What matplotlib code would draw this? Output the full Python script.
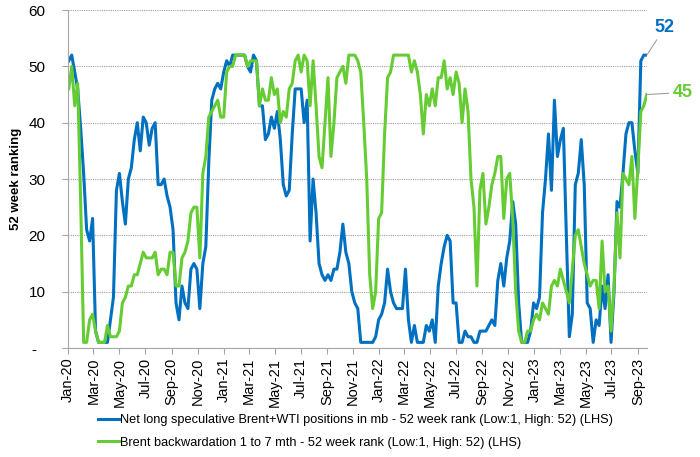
import pandas as pd
import matplotlib
matplotlib.use("Agg")
import matplotlib.pyplot as plt
import matplotlib.dates as mdates
from matplotlib.ticker import FuncFormatter

plt.rcParams['font.family'] = ['Liberation Sans', 'DejaVu Sans']
narrow = ['Liberation Sans Narrow', 'Liberation Sans', 'DejaVu Sans']

# weekly data, first week ending 3 Jan 2020
start_date = "2020-01-03"

net_long_rank = [
    51, 52, 49, 46, 39, 31, 21, 19, 23, 3,
    1, 1, 1, 1, 5, 9, 28, 31, 26, 22,
    30, 32, 37, 40, 35, 41, 40, 36, 39, 40,
    29, 29, 30, 27, 25, 21, 8, 5, 11, 8,
    7, 14, 15, 14, 7, 15, 18, 33, 44, 46,
    47, 46, 49, 51, 50, 52, 52, 52, 52, 52,
    50, 49, 52, 51, 43, 43, 37, 38, 41, 39,
    42, 37, 29, 27, 28, 38, 46, 46, 46, 40,
    44, 19, 30, 24, 15, 13, 12, 13, 12, 14,
    14, 17, 22, 17, 15, 10, 8, 7, 1, 1,
    1, 1, 1, 2, 5, 6, 8, 14, 10, 8,
    7, 7, 7, 14, 5, 1, 4, 1, 1, 1,
    4, 3, 5, 1, 11, 15, 18, 20, 19, 8,
    8, 1, 1, 3, 2, 2, 1, 1, 3, 3,
    3, 4, 5, 4, 12, 15, 11, 16, 19, 26,
    22, 8, 1, 1, 1, 3, 8, 7, 9, 24,
    30, 38, 28, 44, 34, 37, 39, 20, 2, 6,
    29, 31, 37, 29, 8, 7, 1, 5, 4, 11,
    7, 13, 1, 10, 26, 25, 31, 38, 40, 40,
    35, 31, 51, 52, 52,
]

backwardation_rank = [
    46, 50, 43, 47, 26, 1, 1, 5, 6, 3,
    1, 1, 1, 4, 2, 2, 2, 3, 8, 9,
    11, 11, 13, 13, 15, 17, 16, 16, 16, 17,
    13, 14, 14, 13, 17, 17, 11, 11, 16, 17,
    19, 24, 25, 25, 16, 31, 34, 41, 42, 43,
    44, 41, 41, 49, 50, 50, 52, 52, 52, 52,
    50, 51, 51, 51, 43, 46, 44, 44, 48, 45,
    46, 40, 42, 41, 46, 47, 51, 52, 49, 52,
    51, 43, 51, 43, 34, 32, 40, 48, 34, 40,
    48, 49, 50, 47, 52, 52, 52, 51, 49, 40,
    30, 13, 7, 10, 23, 24, 38, 48, 49, 52,
    52, 52, 52, 52, 52, 49, 51, 49, 45, 38,
    45, 43, 46, 43, 48, 48, 51, 46, 48, 45,
    49, 47, 40, 46, 42, 30, 25, 11, 28, 31,
    22, 25, 29, 31, 34, 34, 23, 30, 31, 23,
    10, 3, 1, 1, 3, 3, 5, 6, 5, 8,
    7, 6, 11, 12, 11, 14, 12, 10, 8, 14,
    20, 21, 18, 15, 13, 11, 12, 12, 7, 19,
    10, 11, 3, 11, 24, 16, 31, 30, 29, 34,
    23, 32, 42, 43, 45,
]

label_net_long = "Net long speculative Brent+WTI positions in mb - 52 week rank (Low:1, High: 52) (LHS)"
label_backwardation = "Brent backwardation 1 to 7 mth - 52 week rank (Low:1, High: 52) (LHS)"

blue = "#0070C0"
green = "#66CC33"
grey = "#A6A6A6"

dates = pd.date_range(start_date, periods=len(net_long_rank), freq="7D")

fig = plt.figure(figsize=(7, 4.57), dpi=100)
ax = fig.add_axes([0.097, 0.2385, 0.827, 0.7395])

ax.plot(dates, net_long_rank, color=blue, lw=2.2, label=label_net_long)
ax.plot(dates, backwardation_rank, color=green, lw=2.2, label=label_backwardation)

ax.set_ylim(0, 60)
ax.set_xlim(pd.Timestamp("2020-01-01"), dates[-1])
ax.set_yticks(range(0, 61, 10))
ax.yaxis.set_major_formatter(FuncFormatter(lambda v, p: "-  " if v == 0 else "%d" % v))
ax.xaxis.set_major_locator(mdates.MonthLocator(bymonth=[1, 3, 5, 7, 9, 11]))
ax.xaxis.set_major_formatter(mdates.DateFormatter("%b-%y"))

ax.tick_params(axis="both", color=grey, length=4, width=0.8)
ax.tick_params(axis="y", pad=12)
ax.tick_params(axis="x", pad=3)
for lbl in ax.get_yticklabels():
    lbl.set_family(narrow)
    lbl.set_fontsize(11)
for lbl in ax.get_xticklabels():
    lbl.set_family(narrow)
    lbl.set_fontsize(10.5)
    lbl.set_rotation(90)

ax.yaxis.grid(True, linestyle=(0, (1, 1)), color="#A0A0A0", lw=0.8)
ax.set_axisbelow(True)
for side in ["top", "right"]:
    ax.spines[side].set_visible(False)
for side in ["left", "bottom"]:
    ax.spines[side].set_color(grey)
    ax.spines[side].set_linewidth(0.8)

ax.set_ylabel("52 week ranking", fontsize=9.5, fontweight="bold", labelpad=5)

# end-of-series call-outs
ax.annotate("%d" % net_long_rank[-1], xy=(dates[-1], net_long_rank[-1]),
            xytext=(13, 20), textcoords="offset points", ha="center", va="center",
            color=blue, fontsize=13, fontweight="bold", family=narrow, annotation_clip=False,
            arrowprops=dict(arrowstyle="-", color="#A0A0A0", lw=0.8, shrinkA=1, shrinkB=0))
ax.annotate("%d" % backwardation_rank[-1], xy=(dates[-1], backwardation_rank[-1]),
            xytext=(26, 1.5), textcoords="offset points", ha="center", va="center",
            color=green, fontsize=13, fontweight="bold", family=narrow, annotation_clip=False,
            arrowprops=dict(arrowstyle="-", color="#A0A0A0", lw=0.8, shrinkA=1, shrinkB=0))

fig.legend(loc="upper left", bbox_to_anchor=(98 / 700, 1 - 414 / 457), frameon=False,
           fontsize=9.2, handlelength=1.65, handletextpad=0.05, borderpad=0,
           borderaxespad=0, labelspacing=0.85)

fig.savefig("out.png", dpi=100)
